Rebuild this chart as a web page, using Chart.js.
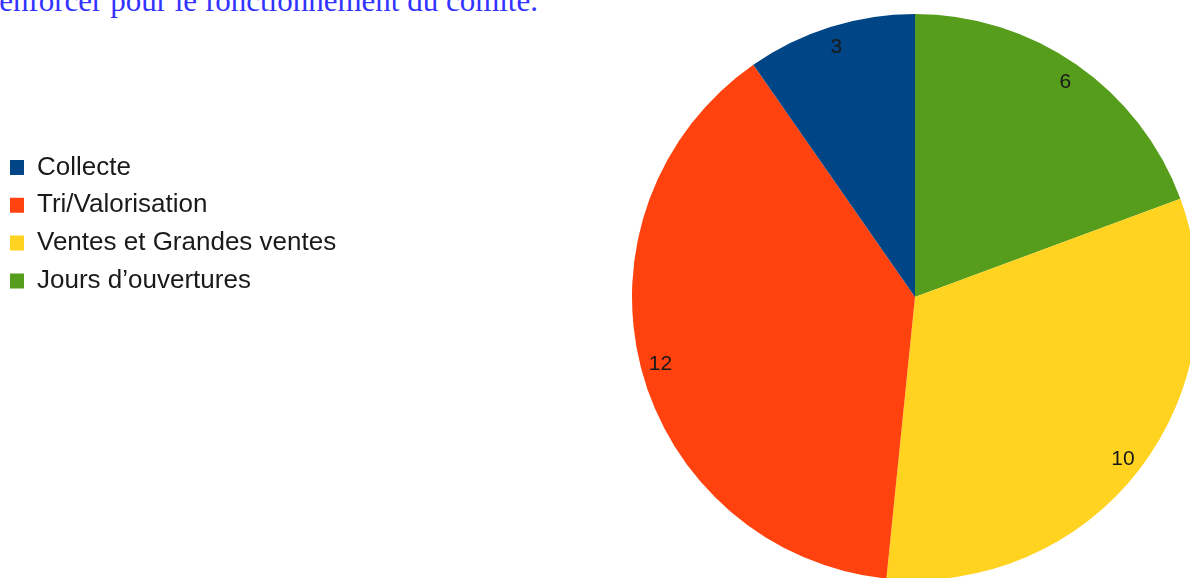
<!DOCTYPE html>
<html lang="fr">
<head>
<meta charset="utf-8">
<script src="https://cdn.jsdelivr.net/npm/chart.js@4/dist/chart.umd.min.js"></script>
<style>
    html, body { margin: 0; padding: 0; background: #fff; overflow: hidden; }
    #texte {
        position: absolute; right: calc(1190px - 538px); top: -17px;
        font-family: 'Liberation Serif', serif; font-size: 31px; color: #3333ff;
        white-space: nowrap; line-height: 36px;
    }
    #wrap { position: absolute; left: 0; top: 0; width: 1190px; height: 578px; }
</style>
</head>
<body>
<div id="texte">renforcer pour le fonctionnement du comité.</div>
<div id="wrap"><canvas id="activitesChart" width="1190" height="578"></canvas></div>
<script>
// Donnees (ordre de la legende)
var categories = ['Collecte', 'Tri/Valorisation', 'Ventes et Grandes ventes', 'Jours d\u2019ouvertures'];
var valeurs = [3, 12, 10, 6];
var couleurs = ['#004586', '#ff420e', '#ffd320', '#579d1c'];

// le camembert tourne dans l'autre sens : on inverse pour le dessin, la legende est remise a l'endroit
var labelsPie = categories.slice().reverse();
var dataPie = valeurs.slice().reverse();
var couleursPie = couleurs.slice().reverse();

// etiquettes des valeurs pres du bord de chaque part
var valeursPlugin = {
    id: 'valeursPlugin',
    afterDatasetsDraw: function (chart) {
        var ctx = chart.ctx;
        var meta = chart.getDatasetMeta(0);
        ctx.save();
        ctx.font = '21px "Liberation Sans", Arial, sans-serif';
        ctx.fillStyle = '#1a1a1a';
        ctx.textAlign = 'center';
        ctx.textBaseline = 'middle';
        meta.data.forEach(function (arc, i) {
            var p = arc.getProps(['x', 'y', 'startAngle', 'endAngle', 'outerRadius'], true);
            var milieu = (p.startAngle + p.endAngle) / 2;
            var r = p.outerRadius - 20;
            ctx.fillText(String(dataPie[i]), p.x + Math.cos(milieu) * r, p.y + Math.sin(milieu) * r + 1);
        });
        ctx.restore();
    }
};

// legende a gauche, largeur fixe pour laisser le camembert a droite
var largeurLegende = {
    id: 'largeurLegende',
    beforeInit: function (chart) {
        var fitOrig = chart.legend.fit;
        chart.legend.fit = function () {
            fitOrig.bind(chart.legend)();
            this.width = 641.8;
        };
    }
};

var ctx = document.getElementById('activitesChart').getContext('2d');
var activitesChart = new Chart(ctx, {
    type: 'pie',
    data: {
        labels: labelsPie,
        datasets: [
            {
                data: dataPie,
                backgroundColor: couleursPie,
                borderWidth: 0,
                clip: false
            }
        ]
    },
    options: {
        responsive: false,
        animation: false,
        radius: 283,
        layout: {
            padding: { left: -1.8, right: 0, top: 142.7, bottom: 126.7 }
        },
        plugins: {
            legend: {
                position: 'left',
                align: 'start',
                reverse: true,
                labels: {
                    boxWidth: 14,
                    boxHeight: 15,
                    padding: 11.8,
                    color: '#1a1a1a',
                    font: { family: '"Liberation Sans", Arial, sans-serif', size: 26 }
                }
            },
            tooltip: { enabled: false }
        }
    },
    plugins: [valeursPlugin, largeurLegende]
});
</script>
</body>
</html>
